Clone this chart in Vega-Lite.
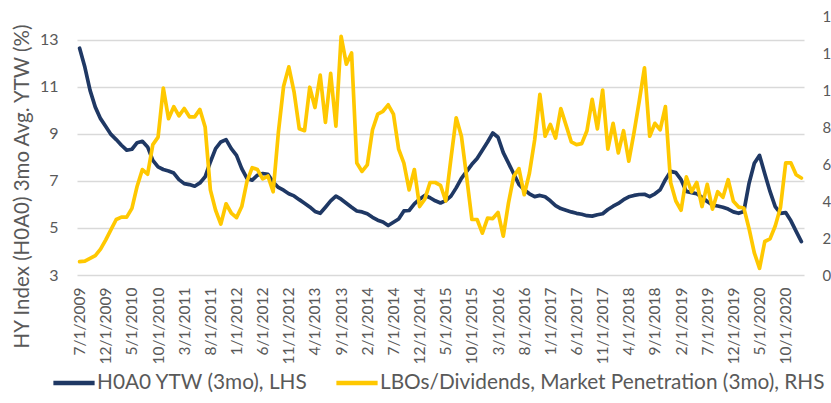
{
  "$schema": "https://vega.github.io/schema/vega-lite/v6.json",
  "width": 727,
  "height": 259,
  "autosize": {"type": "none"},
  "padding": {"left": 77, "top": 16, "right": 27, "bottom": 128},
  "background": "white",
  "config": {
    "view": {"stroke": null},
    "font": "Lato",
    "axis": {"labelFont": "Lato", "titleFont": "Lato"},
    "legend": {"labelFont": "Lato"}
  },
  "data": {
    "values": [
      {"date": "7/1/2009", "hy": 12.63, "lbo": 0.72},
      {"date": "8/1/2009", "hy": 11.83, "lbo": 0.75},
      {"date": "9/1/2009", "hy": 10.84, "lbo": 0.9},
      {"date": "10/1/2009", "hy": 10.13, "lbo": 1.05},
      {"date": "11/1/2009", "hy": 9.64, "lbo": 1.4},
      {"date": "12/1/2009", "hy": 9.31, "lbo": 1.9},
      {"date": "1/1/2010", "hy": 8.97, "lbo": 2.45},
      {"date": "2/1/2010", "hy": 8.75, "lbo": 3.0},
      {"date": "3/1/2010", "hy": 8.51, "lbo": 3.13},
      {"date": "4/1/2010", "hy": 8.3, "lbo": 3.13},
      {"date": "5/1/2010", "hy": 8.34, "lbo": 3.6},
      {"date": "6/1/2010", "hy": 8.62, "lbo": 4.8},
      {"date": "7/1/2010", "hy": 8.68, "lbo": 5.7},
      {"date": "8/1/2010", "hy": 8.44, "lbo": 5.45},
      {"date": "9/1/2010", "hy": 7.87, "lbo": 7.05},
      {"date": "10/1/2010", "hy": 7.59, "lbo": 7.45},
      {"date": "11/1/2010", "hy": 7.48, "lbo": 10.1},
      {"date": "12/1/2010", "hy": 7.42, "lbo": 8.45},
      {"date": "1/1/2011", "hy": 7.33, "lbo": 9.1},
      {"date": "2/1/2011", "hy": 7.05, "lbo": 8.6},
      {"date": "3/1/2011", "hy": 6.88, "lbo": 9.0},
      {"date": "4/1/2011", "hy": 6.84, "lbo": 8.55},
      {"date": "5/1/2011", "hy": 6.77, "lbo": 8.55},
      {"date": "6/1/2011", "hy": 6.91, "lbo": 8.95},
      {"date": "7/1/2011", "hy": 7.17, "lbo": 8.0},
      {"date": "8/1/2011", "hy": 7.8, "lbo": 4.6},
      {"date": "9/1/2011", "hy": 8.37, "lbo": 3.5},
      {"date": "10/1/2011", "hy": 8.65, "lbo": 2.75},
      {"date": "11/1/2011", "hy": 8.75, "lbo": 3.85},
      {"date": "12/1/2011", "hy": 8.37, "lbo": 3.35},
      {"date": "1/1/2012", "hy": 8.08, "lbo": 3.1},
      {"date": "2/1/2012", "hy": 7.52, "lbo": 3.7},
      {"date": "3/1/2012", "hy": 7.1, "lbo": 5.06},
      {"date": "4/1/2012", "hy": 7.03, "lbo": 5.8},
      {"date": "5/1/2012", "hy": 7.24, "lbo": 5.7},
      {"date": "6/1/2012", "hy": 7.31, "lbo": 5.2},
      {"date": "7/1/2012", "hy": 7.28, "lbo": 5.35},
      {"date": "8/1/2012", "hy": 6.95, "lbo": 4.5},
      {"date": "9/1/2012", "hy": 6.72, "lbo": 7.7},
      {"date": "10/1/2012", "hy": 6.6, "lbo": 10.2},
      {"date": "11/1/2012", "hy": 6.45, "lbo": 11.25},
      {"date": "12/1/2012", "hy": 6.36, "lbo": 9.9},
      {"date": "1/1/2013", "hy": 6.2, "lbo": 7.9},
      {"date": "2/1/2013", "hy": 6.05, "lbo": 7.8},
      {"date": "3/1/2013", "hy": 5.89, "lbo": 10.15},
      {"date": "4/1/2013", "hy": 5.7, "lbo": 9.05},
      {"date": "5/1/2013", "hy": 5.62, "lbo": 10.8},
      {"date": "6/1/2013", "hy": 5.88, "lbo": 8.25},
      {"date": "7/1/2013", "hy": 6.15, "lbo": 10.9},
      {"date": "8/1/2013", "hy": 6.35, "lbo": 8.05},
      {"date": "9/1/2013", "hy": 6.22, "lbo": 12.9},
      {"date": "10/1/2013", "hy": 6.05, "lbo": 11.4},
      {"date": "11/1/2013", "hy": 5.88, "lbo": 12.0},
      {"date": "12/1/2013", "hy": 5.72, "lbo": 6.05},
      {"date": "1/1/2014", "hy": 5.68, "lbo": 5.6},
      {"date": "2/1/2014", "hy": 5.6, "lbo": 5.95},
      {"date": "3/1/2014", "hy": 5.45, "lbo": 7.85},
      {"date": "4/1/2014", "hy": 5.33, "lbo": 8.7},
      {"date": "5/1/2014", "hy": 5.25, "lbo": 8.85},
      {"date": "6/1/2014", "hy": 5.1, "lbo": 9.2},
      {"date": "7/1/2014", "hy": 5.24, "lbo": 8.7},
      {"date": "8/1/2014", "hy": 5.38, "lbo": 6.8},
      {"date": "9/1/2014", "hy": 5.72, "lbo": 6.05},
      {"date": "10/1/2014", "hy": 5.74, "lbo": 4.6},
      {"date": "11/1/2014", "hy": 6.02, "lbo": 5.7},
      {"date": "12/1/2014", "hy": 6.22, "lbo": 3.7},
      {"date": "1/1/2015", "hy": 6.38, "lbo": 4.1},
      {"date": "2/1/2015", "hy": 6.28, "lbo": 5.0},
      {"date": "3/1/2015", "hy": 6.15, "lbo": 5.0},
      {"date": "4/1/2015", "hy": 6.06, "lbo": 4.85},
      {"date": "5/1/2015", "hy": 6.16, "lbo": 4.0},
      {"date": "6/1/2015", "hy": 6.35, "lbo": 6.3},
      {"date": "7/1/2015", "hy": 6.7, "lbo": 8.5},
      {"date": "8/1/2015", "hy": 7.1, "lbo": 7.5},
      {"date": "9/1/2015", "hy": 7.4, "lbo": 5.3},
      {"date": "10/1/2015", "hy": 7.7, "lbo": 3.0},
      {"date": "11/1/2015", "hy": 7.95, "lbo": 3.0},
      {"date": "12/1/2015", "hy": 8.3, "lbo": 2.26},
      {"date": "1/1/2016", "hy": 8.65, "lbo": 3.07},
      {"date": "2/1/2016", "hy": 9.03, "lbo": 3.05},
      {"date": "3/1/2016", "hy": 8.85, "lbo": 3.38},
      {"date": "4/1/2016", "hy": 8.2, "lbo": 2.1},
      {"date": "5/1/2016", "hy": 7.75, "lbo": 3.9},
      {"date": "6/1/2016", "hy": 7.3, "lbo": 5.33},
      {"date": "7/1/2016", "hy": 6.85, "lbo": 5.75},
      {"date": "8/1/2016", "hy": 6.62, "lbo": 4.34},
      {"date": "9/1/2016", "hy": 6.45, "lbo": 5.5},
      {"date": "10/1/2016", "hy": 6.33, "lbo": 7.3},
      {"date": "11/1/2016", "hy": 6.38, "lbo": 9.76},
      {"date": "12/1/2016", "hy": 6.32, "lbo": 7.5},
      {"date": "1/1/2017", "hy": 6.15, "lbo": 8.14},
      {"date": "2/1/2017", "hy": 5.95, "lbo": 7.4},
      {"date": "3/1/2017", "hy": 5.82, "lbo": 9.0},
      {"date": "4/1/2017", "hy": 5.75, "lbo": 8.1},
      {"date": "5/1/2017", "hy": 5.68, "lbo": 7.2},
      {"date": "6/1/2017", "hy": 5.62, "lbo": 7.05},
      {"date": "7/1/2017", "hy": 5.58, "lbo": 7.1},
      {"date": "8/1/2017", "hy": 5.52, "lbo": 7.8},
      {"date": "9/1/2017", "hy": 5.5, "lbo": 9.5},
      {"date": "10/1/2017", "hy": 5.56, "lbo": 7.9},
      {"date": "11/1/2017", "hy": 5.6, "lbo": 10.0},
      {"date": "12/1/2017", "hy": 5.78, "lbo": 6.8},
      {"date": "1/1/2018", "hy": 5.92, "lbo": 8.2},
      {"date": "2/1/2018", "hy": 6.04, "lbo": 6.6},
      {"date": "3/1/2018", "hy": 6.2, "lbo": 7.8},
      {"date": "4/1/2018", "hy": 6.32, "lbo": 6.15},
      {"date": "5/1/2018", "hy": 6.38, "lbo": 7.7},
      {"date": "6/1/2018", "hy": 6.42, "lbo": 9.4},
      {"date": "7/1/2018", "hy": 6.43, "lbo": 11.2},
      {"date": "8/1/2018", "hy": 6.33, "lbo": 7.5},
      {"date": "9/1/2018", "hy": 6.45, "lbo": 8.2},
      {"date": "10/1/2018", "hy": 6.62, "lbo": 7.85},
      {"date": "11/1/2018", "hy": 7.05, "lbo": 9.1},
      {"date": "12/1/2018", "hy": 7.4, "lbo": 5.0},
      {"date": "1/1/2019", "hy": 7.35, "lbo": 4.0},
      {"date": "2/1/2019", "hy": 7.05, "lbo": 3.5},
      {"date": "3/1/2019", "hy": 6.55, "lbo": 5.3},
      {"date": "4/1/2019", "hy": 6.5, "lbo": 4.5},
      {"date": "5/1/2019", "hy": 6.45, "lbo": 5.0},
      {"date": "6/1/2019", "hy": 6.3, "lbo": 3.7},
      {"date": "7/1/2019", "hy": 6.12, "lbo": 4.9},
      {"date": "8/1/2019", "hy": 5.97, "lbo": 3.56},
      {"date": "9/1/2019", "hy": 5.93, "lbo": 4.5},
      {"date": "10/1/2019", "hy": 5.88, "lbo": 4.2},
      {"date": "11/1/2019", "hy": 5.8, "lbo": 5.15},
      {"date": "12/1/2019", "hy": 5.68, "lbo": 3.98},
      {"date": "1/1/2020", "hy": 5.62, "lbo": 3.67},
      {"date": "2/1/2020", "hy": 5.7, "lbo": 3.62},
      {"date": "3/1/2020", "hy": 6.9, "lbo": 2.5},
      {"date": "4/1/2020", "hy": 7.75, "lbo": 1.2},
      {"date": "5/1/2020", "hy": 8.08, "lbo": 0.36},
      {"date": "6/1/2020", "hy": 7.3, "lbo": 1.81},
      {"date": "7/1/2020", "hy": 6.55, "lbo": 1.95},
      {"date": "8/1/2020", "hy": 5.9, "lbo": 2.65},
      {"date": "9/1/2020", "hy": 5.62, "lbo": 3.65},
      {"date": "10/1/2020", "hy": 5.65, "lbo": 6.06},
      {"date": "11/1/2020", "hy": 5.3, "lbo": 6.06},
      {"date": "12/1/2020", "hy": 4.85, "lbo": 5.42},
      {"date": "1/1/2021", "hy": 4.42, "lbo": 5.24}
    ]
  },
  "encoding": {
    "x": {
      "field": "date",
      "type": "ordinal",
      "sort": null,
      "scale": {"type": "point", "padding": 0.5},
      "axis": {
        "title": null,
        "values": ["7/1/2009", "12/1/2009", "5/1/2010", "10/1/2010", "3/1/2011", "8/1/2011", "1/1/2012", "6/1/2012", "11/1/2012", "4/1/2013", "9/1/2013", "2/1/2014", "7/1/2014", "12/1/2014", "5/1/2015", "10/1/2015", "3/1/2016", "8/1/2016", "1/1/2017", "6/1/2017", "11/1/2017", "4/1/2018", "9/1/2018", "2/1/2019", "7/1/2019", "12/1/2019", "5/1/2020", "10/1/2020"],
        "labelAngle": -90,
        "labelAlign": "right",
        "labelBaseline": "middle",
        "labelPadding": 12,
        "labelFontSize": 15.5,
        "labelColor": "#595959",
        "labelOverlap": false,
        "labelBound": false,
        "ticks": false,
        "domain": false,
        "grid": false
      }
    }
  },
  "layer": [
    {
      "mark": {"type": "line", "strokeWidth": 3.7, "strokeJoin": "round", "strokeCap": "round"},
      "encoding": {
        "y": {
          "field": "hy",
          "type": "quantitative",
          "scale": {"domain": [3, 14], "nice": false, "zero": false},
          "axis": {
            "title": "HY Index (H0A0) 3mo Avg. YTW (%)",
            "values": [3, 5, 7, 9, 11, 13],
            "grid": true,
            "gridColor": "#D9D9D9",
            "gridWidth": 1.3,
            "domain": false,
            "ticks": false,
            "labelPadding": 19,
            "labelFontSize": 16,
            "labelColor": "#595959",
            "titleFontSize": 20.5,
            "titleFontWeight": "normal",
            "titleColor": "#595959",
            "titleAngle": -90,
            "titleAlign": "center",
            "titleBaseline": "middle",
            "titleX": -55,
            "titleY": 170
          }
        },
        "color": {
          "datum": "H0A0 YTW (3mo), LHS",
          "scale": {
            "domain": ["H0A0 YTW (3mo), LHS", "LBOs/Dividends, Market Penetration (3mo), RHS"],
            "range": ["#1F3864", "#FFC800"]
          },
          "legend": {
            "orient": "none",
            "direction": "horizontal",
            "legendX": -26,
            "legendY": 344,
            "title": null,
            "symbolType": "stroke",
            "symbolSize": 1700,
            "symbolStrokeWidth": 4.5,
            "labelFontSize": 20.8,
            "labelColor": "#595959",
            "labelOffset": 0,
            "labelLimit": 700,
            "columnPadding": 19
          }
        }
      }
    },
    {
      "mark": {"type": "line", "strokeWidth": 3.7, "strokeJoin": "round", "strokeCap": "round"},
      "encoding": {
        "y": {
          "field": "lbo",
          "type": "quantitative",
          "scale": {"domain": [0, 14], "nice": false, "zero": true},
          "axis": {
            "orient": "right",
            "title": null,
            "values": [0, 2, 4, 6, 8, 10, 12, 14],
            "grid": false,
            "domain": false,
            "ticks": false,
            "labelPadding": 18,
            "labelFontSize": 15,
            "labelColor": "#595959",
            "labelBound": false,
            "labelFlush": false
          }
        },
        "color": {"datum": "LBOs/Dividends, Market Penetration (3mo), RHS"}
      }
    }
  ],
  "resolve": {"scale": {"y": "independent"}}
}
